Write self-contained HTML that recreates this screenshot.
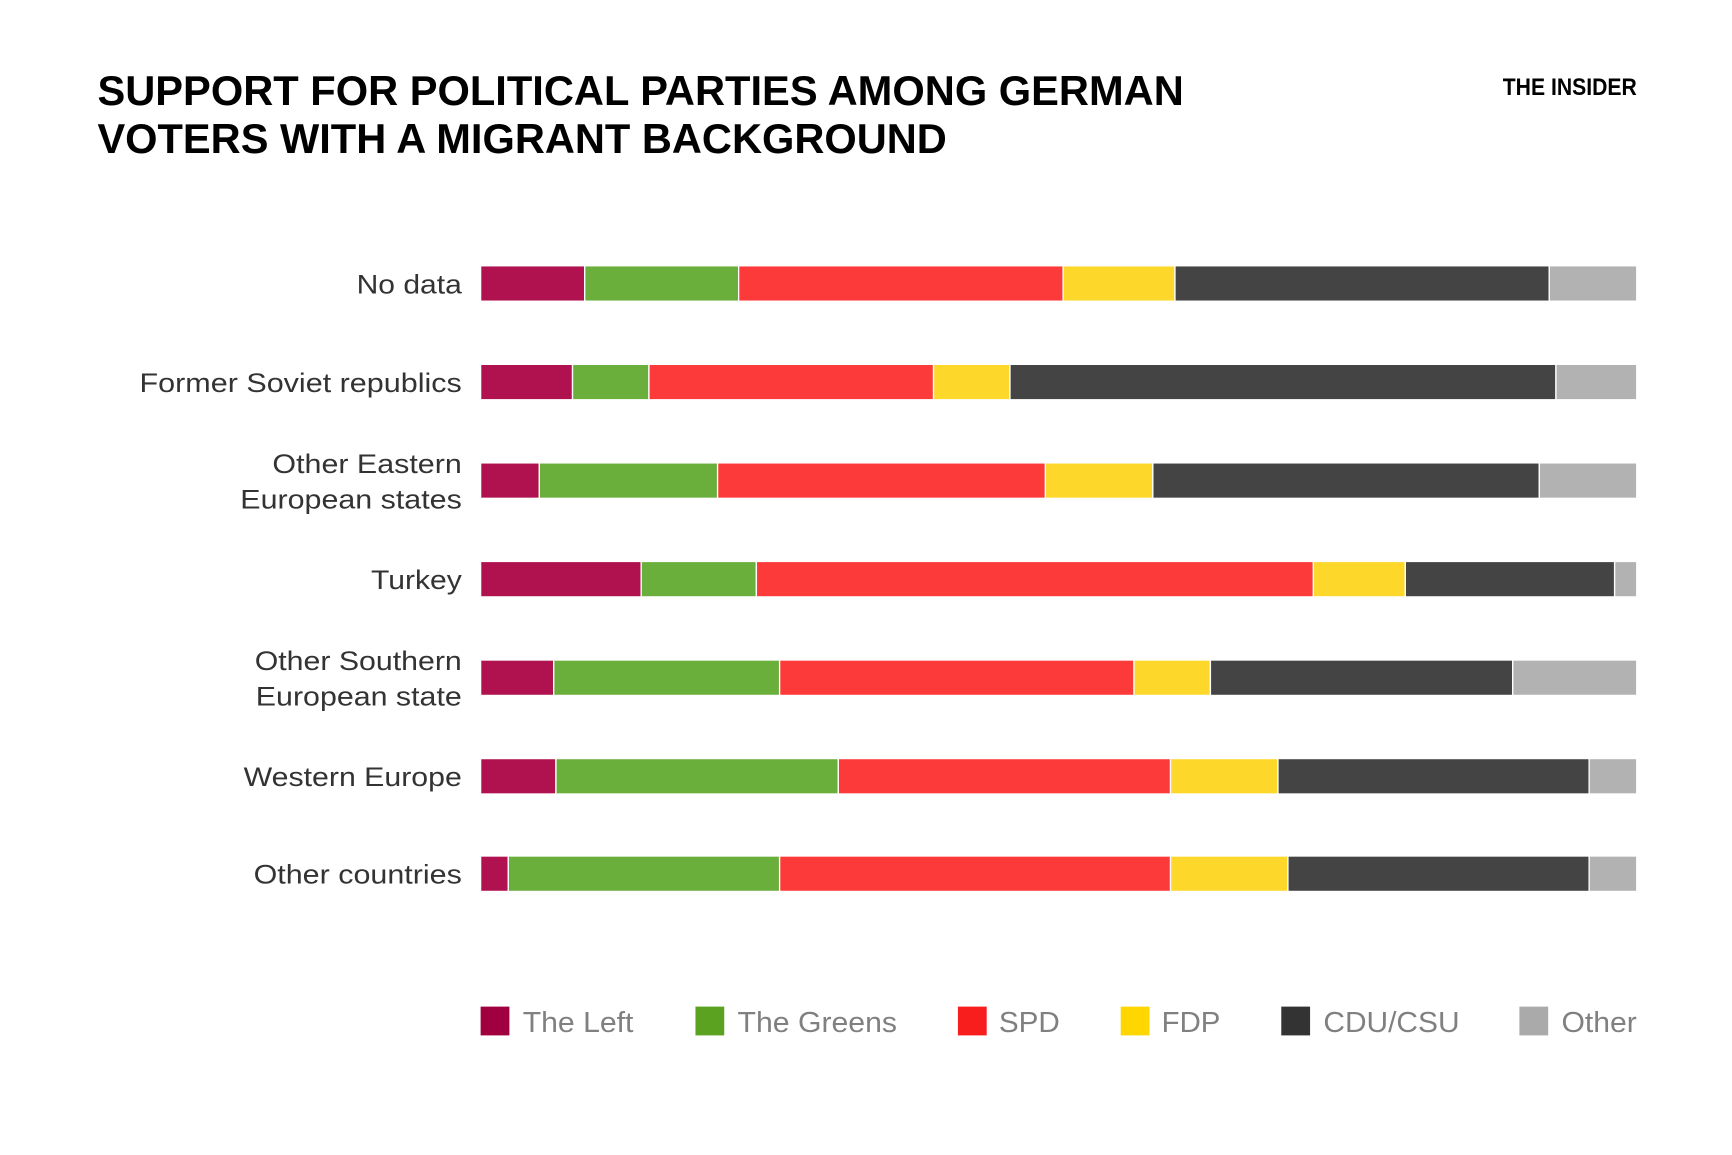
<!DOCTYPE html>
<html><head><meta charset="utf-8"><style>
html,body{margin:0;padding:0;background:#fff;}
svg{display:block;}
text{font-family:"Liberation Sans",Arial,sans-serif;}
</style></head><body>
<svg width="1732" height="1155" viewBox="0 0 1564 1043" preserveAspectRatio="none" xmlns="http://www.w3.org/2000/svg">
<rect width="1564" height="1043" fill="#fff"/>
<g font-weight="bold" fill="#000" font-size="38">
<text x="88" y="95" textLength="981" lengthAdjust="spacingAndGlyphs">SUPPORT FOR POLITICAL PARTIES AMONG GERMAN</text>
<text x="88" y="138" textLength="767" lengthAdjust="spacingAndGlyphs">VOTERS WITH A MIGRANT BACKGROUND</text>
<text x="1357" y="86" font-size="22" textLength="121" lengthAdjust="spacingAndGlyphs">THE INSIDER</text>
</g>
<g font-size="24" fill="#333" text-anchor="end">
<text x="417" y="265" textLength="95" lengthAdjust="spacingAndGlyphs">No data</text>
<text x="417" y="354" textLength="291" lengthAdjust="spacingAndGlyphs">Former Soviet republics</text>
<text x="417" y="427" textLength="171" lengthAdjust="spacingAndGlyphs">Other Eastern</text>
<text x="417" y="459" textLength="200" lengthAdjust="spacingAndGlyphs">European states</text>
<text x="417" y="532" textLength="82" lengthAdjust="spacingAndGlyphs">Turkey</text>
<text x="417" y="605" textLength="187" lengthAdjust="spacingAndGlyphs">Other Southern</text>
<text x="417" y="637" textLength="186" lengthAdjust="spacingAndGlyphs">European state</text>
<text x="417" y="710" textLength="197" lengthAdjust="spacingAndGlyphs">Western Europe</text>
<text x="417" y="798" textLength="188" lengthAdjust="spacingAndGlyphs">Other countries</text>
</g>
<g id="bars" stroke="#fff" stroke-width="1"></g>
<g>
<rect x="434" y="909" width="26" height="26" fill="#a0003f"/>
<rect x="628" y="909" width="26" height="26" fill="#5aa21f"/>
<rect x="865" y="909" width="26" height="26" fill="#f91e1e"/>
<rect x="1012" y="909" width="26" height="26" fill="#ffd600"/>
<rect x="1157" y="909" width="26" height="26" fill="#333"/>
<rect x="1372" y="909" width="26" height="26" fill="#aaa"/>
</g>
<g font-size="26" fill="#808080">
<text x="472" y="932" textLength="100" lengthAdjust="spacingAndGlyphs">The Left</text>
<text x="666" y="932" textLength="144" lengthAdjust="spacingAndGlyphs">The Greens</text>
<text x="902" y="932" textLength="55" lengthAdjust="spacingAndGlyphs">SPD</text>
<text x="1049" y="932" textLength="53" lengthAdjust="spacingAndGlyphs">FDP</text>
<text x="1195" y="932" textLength="123" lengthAdjust="spacingAndGlyphs">CDU/CSU</text>
<text x="1410" y="932" textLength="68" lengthAdjust="spacingAndGlyphs">Other</text>
</g>
<g stroke="#fff" stroke-width="1.2">
<!-- row 1 -->
<rect x="434" y="240" width="94" height="32" fill="#b01250"/><rect x="528" y="240" width="139" height="32" fill="#6aaf3c"/><rect x="667" y="240" width="293" height="32" fill="#fc3a3a"/><rect x="960" y="240" width="101" height="32" fill="#fdd72a"/><rect x="1061" y="240" width="338" height="32" fill="#444"/><rect x="1399" y="240" width="79" height="32" fill="#b2b2b2"/>
<!-- row 2 -->
<rect x="434" y="329" width="83" height="32" fill="#b01250"/><rect x="517" y="329" width="69" height="32" fill="#6aaf3c"/><rect x="586" y="329" width="257" height="32" fill="#fc3a3a"/><rect x="843" y="329" width="69" height="32" fill="#fdd72a"/><rect x="912" y="329" width="493" height="32" fill="#444"/><rect x="1405" y="329" width="73" height="32" fill="#b2b2b2"/>
<!-- row 3 -->
<rect x="434" y="418" width="53" height="32" fill="#b01250"/><rect x="487" y="418" width="161" height="32" fill="#6aaf3c"/><rect x="648" y="418" width="296" height="32" fill="#fc3a3a"/><rect x="944" y="418" width="97" height="32" fill="#fdd72a"/><rect x="1041" y="418" width="349" height="32" fill="#444"/><rect x="1390" y="418" width="88" height="32" fill="#b2b2b2"/>
<!-- row 4 -->
<rect x="434" y="507" width="145" height="32" fill="#b01250"/><rect x="579" y="507" width="104" height="32" fill="#6aaf3c"/><rect x="683" y="507" width="503" height="32" fill="#fc3a3a"/><rect x="1186" y="507" width="83" height="32" fill="#fdd72a"/><rect x="1269" y="507" width="189" height="32" fill="#444"/><rect x="1458" y="507" width="20" height="32" fill="#b2b2b2"/>
<!-- row 5 -->
<rect x="434" y="596" width="66" height="32" fill="#b01250"/><rect x="500" y="596" width="204" height="32" fill="#6aaf3c"/><rect x="704" y="596" width="320" height="32" fill="#fc3a3a"/><rect x="1024" y="596" width="69" height="32" fill="#fdd72a"/><rect x="1093" y="596" width="273" height="32" fill="#444"/><rect x="1366" y="596" width="112" height="32" fill="#b2b2b2"/>
<!-- row 6 -->
<rect x="434" y="685" width="68" height="32" fill="#b01250"/><rect x="502" y="685" width="255" height="32" fill="#6aaf3c"/><rect x="757" y="685" width="300" height="32" fill="#fc3a3a"/><rect x="1057" y="685" width="97" height="32" fill="#fdd72a"/><rect x="1154" y="685" width="281" height="32" fill="#444"/><rect x="1435" y="685" width="43" height="32" fill="#b2b2b2"/>
<!-- row 7 -->
<rect x="434" y="773" width="25" height="32" fill="#b01250"/><rect x="459" y="773" width="245" height="32" fill="#6aaf3c"/><rect x="704" y="773" width="353" height="32" fill="#fc3a3a"/><rect x="1057" y="773" width="106" height="32" fill="#fdd72a"/><rect x="1163" y="773" width="272" height="32" fill="#444"/><rect x="1435" y="773" width="43" height="32" fill="#b2b2b2"/>
</g>
</svg>
</body></html>
